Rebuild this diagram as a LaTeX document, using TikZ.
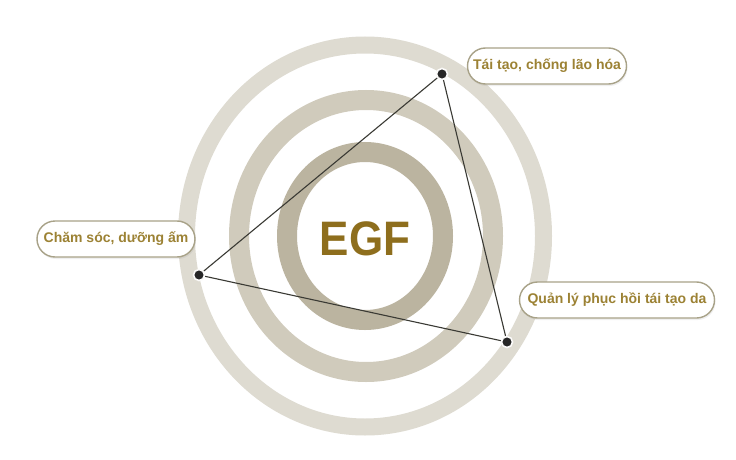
\documentclass[tikz,border=0pt]{standalone}
\usepackage{fontspec}
\setmainfont{Liberation Sans}
\usepackage{tikz}
\usetikzlibrary{shapes.misc,shadows}

\definecolor{ringout}{HTML}{DEDBD1}
\definecolor{ringmid}{HTML}{D0CBBC}
\definecolor{ringin}{HTML}{BBB4A0}
\definecolor{egfgold}{HTML}{8E6E1D}
\definecolor{labgold}{HTML}{9C8234}
\definecolor{labedge}{HTML}{A8A288}
\definecolor{linkgray}{HTML}{3A3A34}

\tikzset{
  ring/.style={line width=#1},
  dotnode/.style={circle,fill=black!85,draw=white!90!ringout,line width=1.6pt,
    inner sep=0pt,minimum size=11pt},
  labelbox/.style={rounded rectangle,draw=labedge,line width=1.4pt,fill=white,
    text=labgold,font=\fontsize{14}{17}\selectfont\bfseries,
    minimum height=36pt,inner xsep=10pt,
    drop shadow={shadow xshift=1pt,shadow yshift=-2pt,opacity=0.12}},
  link/.style={draw=linkgray,line width=1.1pt}
}

\begin{document}
\begin{tikzpicture}[x=1pt,y=-1pt]
      \useasboundingbox[fill=white] (0,0) rectangle (736,460);
      % Rings
      \draw[ringout,ring=17pt] (365,236) ellipse [x radius=178.5,y radius=191];
      \draw[ringmid,ring=20pt] (366,236) ellipse [x radius=127,y radius=136];
      \draw[ringin,ring=20pt] (365,236) ellipse [x radius=78,y radius=84];
      \node[text=egfgold,font=\fontsize{44}{48}\selectfont\bfseries] (egf) at (365,239)
        {\scalebox{1}[1.1]{EGF}};
      % Points
      \node[dotnode] (care) at (199,275) {};
      \node[dotnode] (renew) at (442,74) {};
      \node[dotnode] (repair) at (507,342) {};
      \draw[link] (care) -- (renew) -- (repair) -- (care);
      % Labels
      \node[labelbox,minimum width=178pt] (carelabel) at (116,239) {Chăm sóc, dưỡng ấm};
      \node[labelbox,minimum width=179pt] (renewlabel) at (547,66) {Tái tạo, chống lão hóa};
      \node[labelbox,minimum width=215pt] (repairlabel) at (617,300) {Quản lý phục hồi tái tạo da};
    \end{tikzpicture}
\end{document}
